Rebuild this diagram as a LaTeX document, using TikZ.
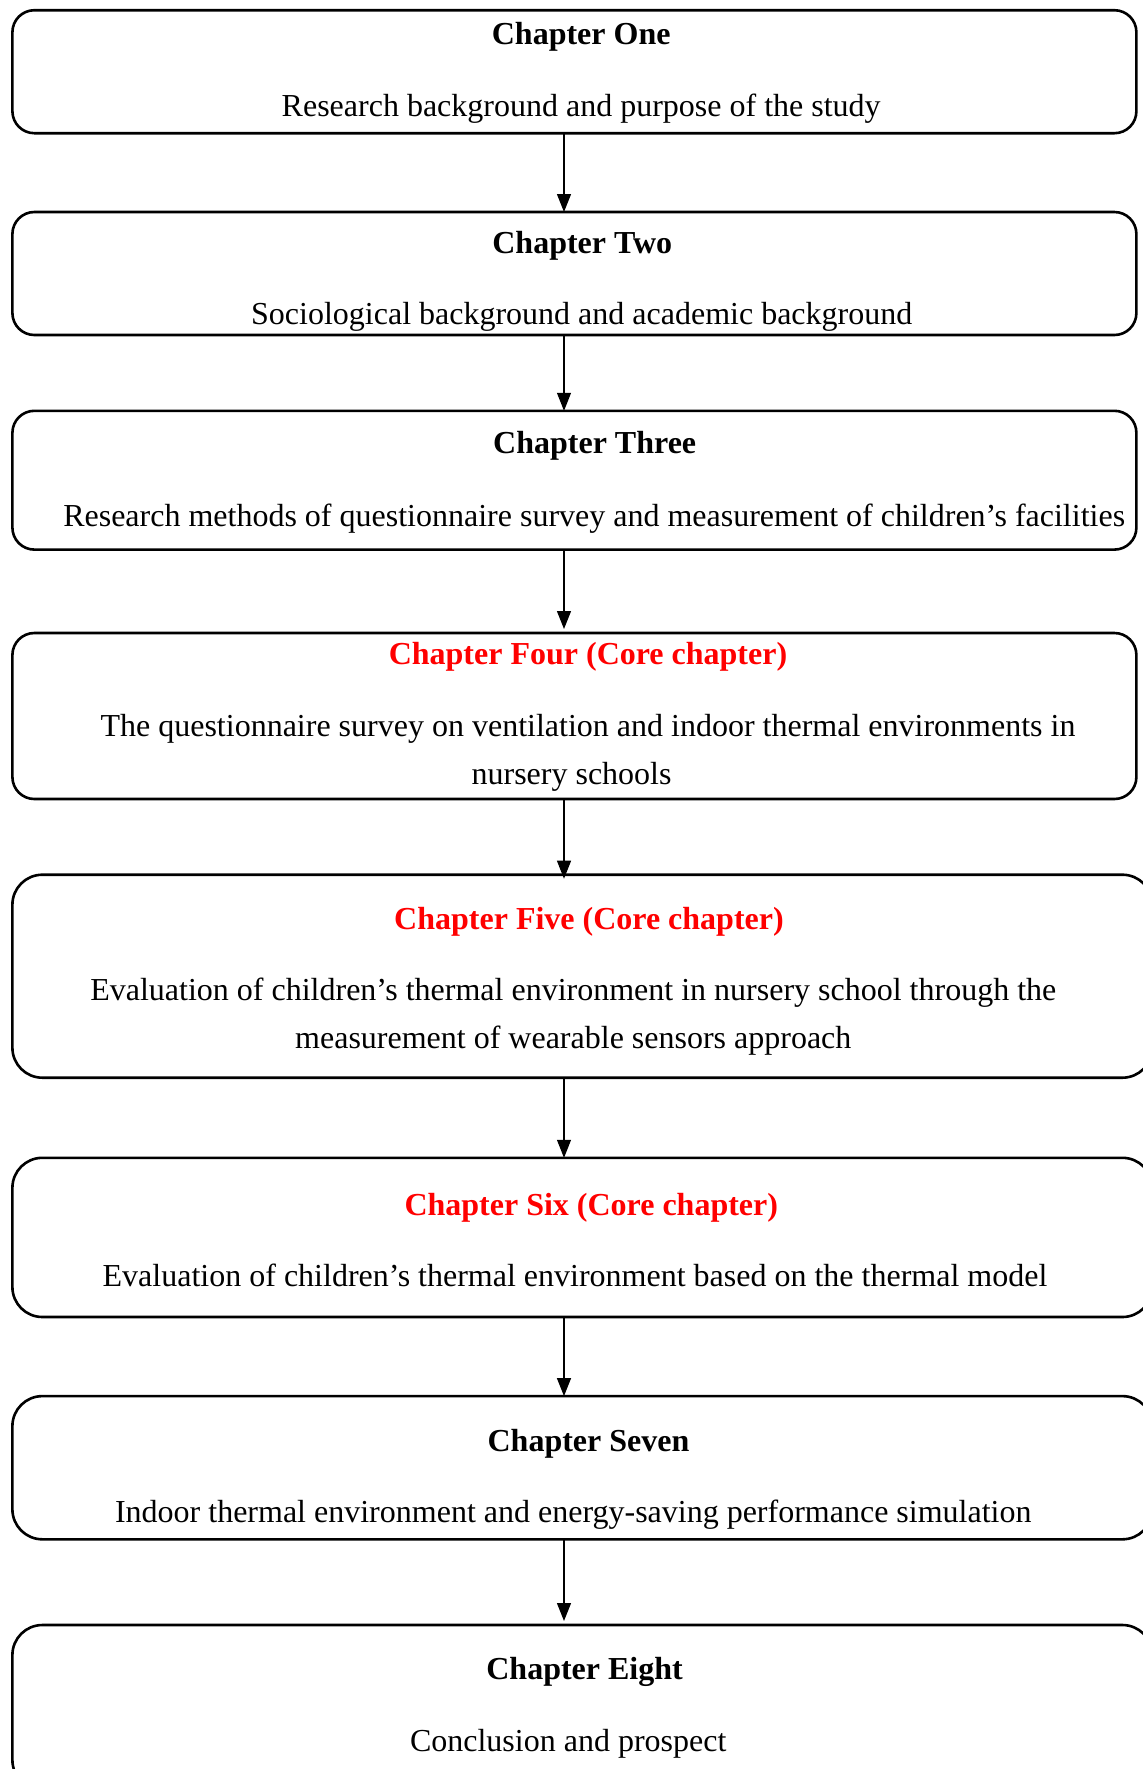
\documentclass[tikz,border=0pt]{standalone}
\usepackage{fontspec}
\setmainfont{Liberation Serif}
\usetikzlibrary{arrows.meta}
\definecolor{corered}{RGB}{255,0,0}
\tikzset{
  chbox/.style={draw=black, line width=1.3pt, rounded corners=11pt, minimum width=#1, inner sep=0pt, outer sep=0pt, shape=rectangle},
  ttl/.style={anchor=base, font=\fontsize{16}{19}\selectfont\bfseries, inner sep=0pt, yshift=-0.7pt},
  redttl/.style={ttl, text=corered},
  sub/.style={anchor=base, font=\fontsize{16}{19}\selectfont, inner sep=0pt, yshift=-0.7pt},
  flow/.style={-{Triangle[length=9pt,width=7pt]}, line width=0.6pt}
}
\begin{document}
\begin{tikzpicture}[x=0.5pt,y=-0.5pt]
\useasboundingbox (0,0) rectangle (1142,1769);
% boxes
\node[chbox=562pt, minimum height=61.5pt] (b1) at (574.4,71.7) {};
\node[chbox=562pt, minimum height=61.5pt] (b2) at (574.4,273.5) {};
\node[chbox=562pt, minimum height=69.4pt] (b3) at (574.4,480.2) {};
\node[chbox=562pt, minimum height=83pt] (b4) at (574.4,716) {};
\node[chbox=570pt, minimum height=101.5pt, rounded corners=15pt] (b5) at (582.4,976.2) {};
\node[chbox=570pt, minimum height=79.6pt, rounded corners=15pt] (b6) at (582.4,1237.4) {};
\node[chbox=570pt, minimum height=71.6pt, rounded corners=15pt] (b7) at (582.4,1467.7) {};
\node[chbox=570pt, minimum height=82.5pt, rounded corners=15pt] (b8) at (582.4,1707.5) {};
% texts
\node[ttl] (t1) at (581.2,43) {Chapter One};
\node[sub] (s1) at (581.2,115) {Research background and purpose of the study};
\node[ttl] (t2) at (582.3,251.6) {Chapter Two};
\node[sub] (s2) at (581.7,322.7) {Sociological background and academic background};
\node[ttl] (t3) at (594.7,452.5) {Chapter Three};
\node[sub] (s3) at (594.2,524.7) {Research methods of questionnaire survey and measurement of children’s facilities};
\node[redttl] (t4) at (588,663.5) {Chapter Four (Core chapter)};
\node[sub] (s4a) at (588,734.6) {The questionnaire survey on ventilation and indoor thermal environments in};
\node[sub] (s4b) at (571.6,783) {nursery schools};
\node[redttl] (t5) at (589,927.6) {Chapter Five (Core chapter)};
\node[sub] (s5a) at (573.3,998.7) {Evaluation of children’s thermal environment in nursery school through the};
\node[sub] (s5b) at (573.3,1047.2) {measurement of wearable sensors approach};
\node[redttl] (t6) at (591.3,1214.3) {Chapter Six (Core chapter)};
\node[sub] (s6) at (575,1285.4) {Evaluation of children’s thermal environment based on the thermal model};
\node[ttl] (t7) at (588.5,1450) {Chapter Seven};
\node[sub] (s7) at (573.3,1521.2) {Indoor thermal environment and energy-saving performance simulation};
\node[ttl] (t8) at (584.6,1678) {Chapter Eight};
\node[sub] (s8) at (568.2,1750) {Conclusion and prospect};
% arrows
\coordinate (ax) at (564,0);
\draw[flow] (b1.south -| ax) -- (b2.north -| ax);
\draw[flow] (b2.south -| ax) -- (b3.north -| ax);
\draw[flow] (b3.south -| ax) -- ([yshift=2pt]b4.north -| ax);
\draw[flow] (b4.south -| ax) -- ([yshift=-2pt]b5.north -| ax);
\draw[flow] (b5.south -| ax) -- (b6.north -| ax);
\draw[flow] (b6.south -| ax) -- (b7.north -| ax);
\draw[flow] (b7.south -| ax) -- ([yshift=2pt]b8.north -| ax);
\end{tikzpicture}
\end{document}
